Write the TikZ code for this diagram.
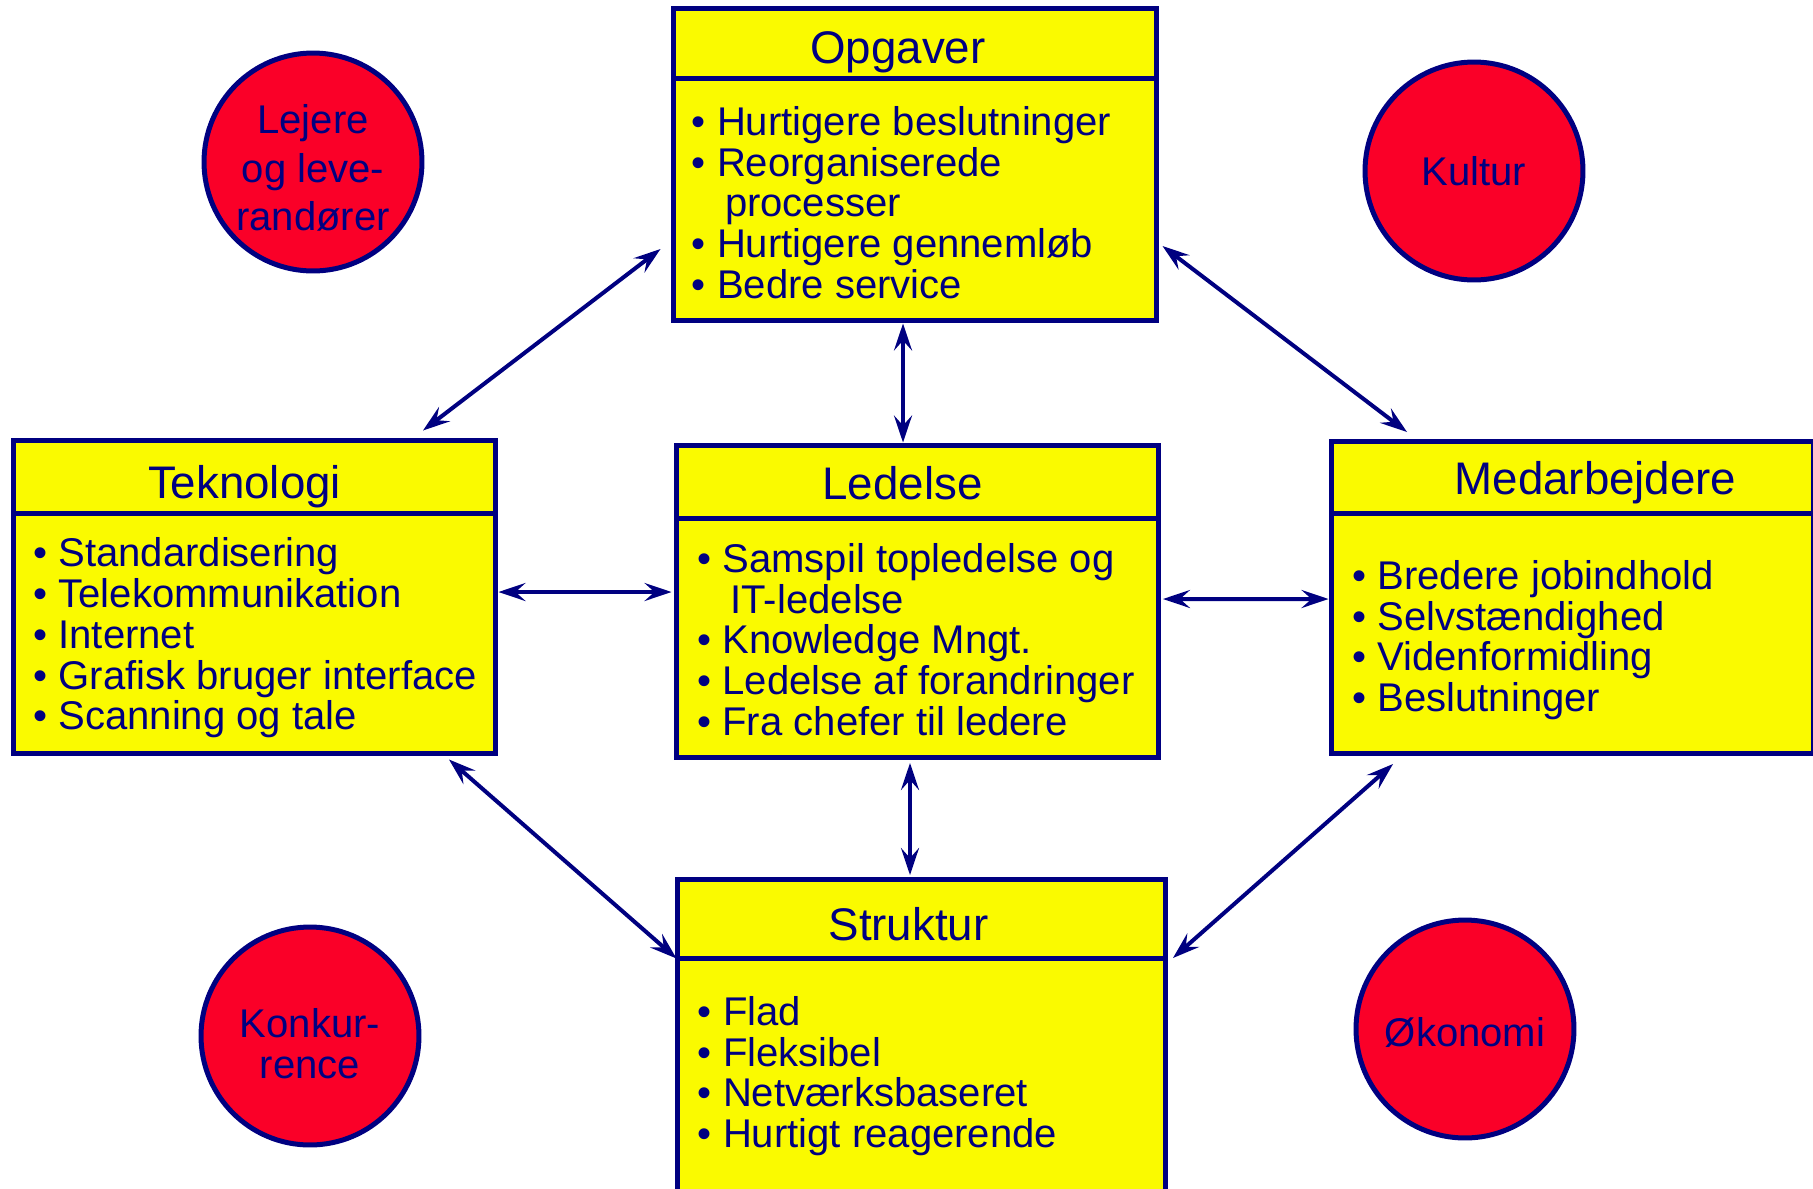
\documentclass[tikz,border=0pt]{standalone}
\usepackage{fontspec}
\setmainfont{Liberation Sans}
\usepackage{tikz}
\usetikzlibrary{arrows.meta, positioning, calc}
\definecolor{navyline}{RGB}{0,0,128}
\definecolor{boxyellow}{RGB}{250,250,0}
\definecolor{circlered}{RGB}{250,0,40}

\begin{document}
\begin{tikzpicture}[
    x=0.02cm, y=-0.02cm,
    >={Stealth[length=0.54cm, width=0.36cm, inset=0.2cm]},
    box/.style={rectangle, draw=navyline, fill=boxyellow, line width=0.1cm, minimum width=9.66cm, minimum height=6.26cm, inner sep=0pt},
    head/.style={rectangle, draw=navyline, fill=boxyellow, line width=0.1cm, minimum width=9.66cm, anchor=north, inner sep=0pt, text depth=0pt, text=navyline, font=\fontsize{26}{28}\selectfont},
    items/.style={inner sep=0pt, align=left, text=navyline, font=\fontsize{22.8}{23.2}\selectfont},
    factor/.style={circle, draw=navyline, fill=circlered, line width=0.1cm, minimum size=4.36cm, inner sep=0pt, align=center, text=navyline, font=\fontsize{22.8}{23.2}\selectfont},
    link/.style={<->, draw=navyline, line width=0.08cm}
]
    \useasboundingbox (0,0) rectangle (1813,1188);

    % Opgaver (top)
    \node[box] (opg) at (915,164.5) {};
    \node[head, minimum height=1.4cm, text height=0.8cm] (opgH) at (opg.north) {\hspace*{-0.68cm}Opgaver};
    \node[items, below right=2.01cm and 0.41cm of opg.north west] (opgL) {\textbullet\ Hurtigere beslutninger\\
        \textbullet\ Reorganiserede\\
        \hphantom{\textbullet\ }\hspace{0.2em}processer\\
        \textbullet\ Hurtigere gennemløb\\
        \textbullet\ Bedre service};

    % Teknologi (left)
    \node[box] (tek) at (254.5,597) {};
    \node[head, minimum height=1.46cm, text height=0.86cm] (tekH) at (tek.north) {\hspace*{-0.4cm}Teknologi};
    \node[items, below right=1.99cm and 0.45cm of tek.north west] (tekL) {\textbullet\ Standardisering\\
        \textbullet\ Telekommunikation\\
        \textbullet\ Internet\\
        \textbullet\ Grafisk bruger interface\\
        \textbullet\ Scanning og tale};

    % Ledelse (centre)
    \node[box] (led) at (917.5,601.5) {};
    \node[head, minimum height=1.46cm, text height=0.72cm] (ledH) at (led.north) {\hspace*{-0.6cm}Ledelse};
    \node[items, below right=2.01cm and 0.47cm of led.north west] (ledL) {\textbullet\ Samspil topledelse og\\
        \hphantom{\textbullet\ }\hspace{0.2em}IT-ledelse\\
        \textbullet\ Knowledge Mngt.\\
        \textbullet\ Ledelse af forandringer\\
        \textbullet\ Fra chefer til ledere};

    % Medarbejdere (right)
    \node[box] (med) at (1572.5,597.5) {};
    \node[head, minimum height=1.44cm, text height=0.68cm] (medH) at (med.north) {\hspace*{0.92cm}Medarbejdere};
    \node[items, below right=2.43cm and 0.47cm of med.north west] (medL) {\textbullet\ Bredere jobindhold\\
        \textbullet\ Selvstændighed\\
        \textbullet\ Videnformidling\\
        \textbullet\ Beslutninger};

    % Struktur (bottom)
    \node[box, minimum width=9.78cm, minimum height=6.44cm] (str) at (921.5,1040) {};
    \node[head, minimum width=9.78cm, minimum height=1.58cm, text height=0.86cm] (strH) at (str.north) {\hspace*{-0.52cm}Struktur};
    \node[items, below right=2.39cm and 0.46cm of str.north west] (strL) {\textbullet\ Flad\\
        \textbullet\ Fleksibel\\
        \textbullet\ Netværksbaseret\\
        \textbullet\ Hurtigt reagerende};

    % Outer factors
    \node[factor, font=\fontsize{22.8}{27.6}\selectfont] (lejere) at (313,162) {\rule{0pt}{0.82cm}Lejere\\og leve-\\randører};
    \node[factor] (kultur) at (1474,171) {Kultur};
    \node[factor] (konk) at (310,1036) {\rule{0pt}{0.9cm}Konkur-\\rence};
    \node[factor] (oko) at (1465,1029) {\rule{0pt}{0.72cm}Økonomi};

    % Links
    \draw[link] ($(opg.south west)+(-10.5,-74.5)$) -- ($(tek.north east)+(-75.5,-7.5)$);
    \draw[link] ($(opg.south east)+(3.5,-77.5)$) -- ($(med.north west)+(78.5,-6.5)$);
    \draw[link] ($(opg.south)+(-12,0)$) -- ($(led.north)+(-14.5,0)$);
    \draw[link] ($(tek.east)+(0,-5)$) -- ($(led.west)+(-2,-9.5)$);
    \draw[link] ($(led.east)+(1.5,-2.5)$) -- ($(med.west)+(0,1.5)$);
    \draw[link] ($(led.south)+(-7.5,2.5)$) -- ($(str.north)+(-11.5,-1.5)$);
    \draw[link] ($(tek.south east)+(-49.5,3.5)$) -- ($(strH.south west)+(2,-2)$);
    \draw[link] ($(med.south west)+(64.5,7.5)$) -- ($(strH.south east)+(4.5,-2.5)$);

\end{tikzpicture}
\end{document}
